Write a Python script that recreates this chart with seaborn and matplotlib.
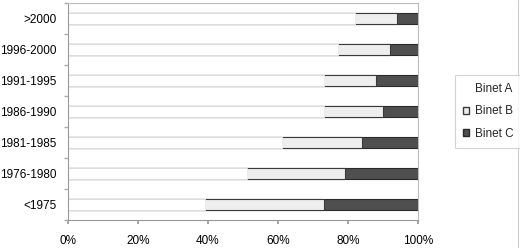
import matplotlib
matplotlib.use("Agg")
import matplotlib.pyplot as plt
import seaborn as sns
import numpy as np
import pandas as pd
from matplotlib.patches import Patch
from matplotlib.lines import Line2D
from matplotlib.ticker import FixedLocator, PercentFormatter

categories = [">2000", "1996-2000", "1991-1995", "1986-1990", "1981-1985", "1976-1980", "<1975"]
binet_a = [82, 77, 73, 73, 61, 51, 39]
binet_b = [12, 15, 15, 17, 23, 28, 34]
binet_c = [6, 8, 12, 10, 16, 21, 27]
x_ticks = [0, 20, 40, 60, 80, 100]
series_names = ["Binet A", "Binet B", "Binet C"]

sns.set_theme(style="white")
plt.rcParams['font.family'] = ['Liberation Sans', 'DejaVu Sans']

df = pd.DataFrame({"cat": categories, "A": binet_a, "B": binet_b, "C": binet_c})
df["AB"] = df["A"] + df["B"]
df["ABC"] = df["AB"] + df["C"]

fig = plt.figure(figsize=(5.2, 2.48), dpi=100)
ax = fig.add_axes([68/520, 1-220/248, 350/520, 217/248])

w = 0.38
sns.barplot(data=df, x="ABC", y="cat", orient="h", color="#4f4f4f", width=w,
            edgecolor="#2a2a2a", linewidth=0.8, saturation=1, ax=ax)
sns.barplot(data=df, x="AB", y="cat", orient="h", color="#eeeeee", width=w,
            edgecolor="#3a3a3a", linewidth=0.8, saturation=1, ax=ax)
sns.barplot(data=df, x="A", y="cat", orient="h", color="white", width=w,
            edgecolor="#ebebeb", linewidth=0.6, saturation=1, ax=ax)

ax.set_xlim(0, 100)
ax.set_ylim(len(categories) - 0.5, -0.5)
ax.xaxis.set_major_locator(FixedLocator(x_ticks))
ax.xaxis.set_major_formatter(PercentFormatter(decimals=0))
ax.set_xlabel("")
ax.set_ylabel("")
ax.tick_params(axis="y", which="major", length=0, labelsize=8.5, pad=8.5, colors="black")
ax.tick_params(axis="x", which="major", length=3, labelsize=8.5, pad=8, colors="black",
               color="#999999", direction="out", bottom=True)
ax.yaxis.set_minor_locator(FixedLocator(np.arange(-0.5, len(categories), 1.0)))
ax.tick_params(axis="y", which="minor", length=3, color="#aaaaaa", left=True, direction="out")
for s in ["left", "bottom"]:
    ax.spines[s].set_color("#999999")
    ax.spines[s].set_linewidth(0.8)
for s in ["top", "right"]:
    ax.spines[s].set_color("#bbbbbb")
    ax.spines[s].set_linewidth(0.8)

handles = [
    Patch(facecolor="white", edgecolor="white", label=series_names[0]),
    Patch(facecolor="#eeeeee", edgecolor="#3a3a3a", label=series_names[1]),
    Patch(facecolor="#4f4f4f", edgecolor="#2a2a2a", label=series_names[2]),
]
leg = fig.legend(handles=handles, loc="center left", bbox_to_anchor=(455/520, 1-111.5/248),
                 frameon=True, fontsize=8.5, handlelength=0.5, handleheight=0.6,
                 handletextpad=0.5, borderpad=0.7, labelspacing=0.85, fancybox=False,
                 borderaxespad=0)
leg.get_frame().set_edgecolor("#c8c8c8")
leg.get_frame().set_linewidth(0.8)

fig.add_artist(Line2D([517.5/520, 517.5/520], [0, 1], transform=fig.transFigure,
                      color="#cccccc", linewidth=0.8))

fig.savefig("out.png", dpi=100)
